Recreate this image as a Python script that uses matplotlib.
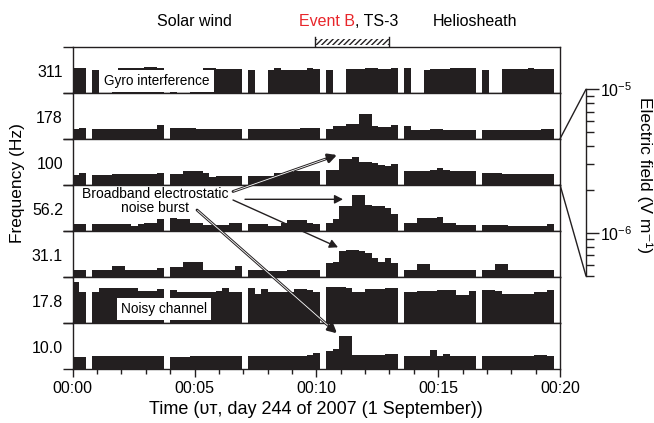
import numpy as np
import matplotlib
matplotlib.use("Agg")
import matplotlib.pyplot as plt
from matplotlib.patches import Rectangle, ConnectionPatch
from matplotlib.transforms import blended_transform_factory
from matplotlib.ticker import LogLocator, NullFormatter, LogFormatterMathtext, MultipleLocator

plt.rcParams['font.family'] = ['Liberation Sans', 'DejaVu Sans']

INK = '#231f20'
G = np.nan

# 16-s bins over 20 minutes; level = bar height in % of panel height
bin_min = 16 / 60.0
channels = ['311', '178', '100', '56.2', '31.1', '17.8', '10.0']

lvl_311 = [54, 53, G, 50, G, G, 50, 53, 53, 53, 53, 56, 56, 53, G, 48, G, G, 50, 50, 53, 53, 51, 51, 51,
           51, G, 50, G, G, 50, 53, 50, 50, 50, 50, 53, 52, G, 50, G, G, 52, 52, 52, 53, 53, 52, 52, 54,
           G, 54, G, G, 50, 52, 52, 52, 54, 54, 54, 53, G, 50, G, G, 52, 52, 52, 52, 53, 52, 52, 52, G]
lvl_178 = [21, 24, G, 22, 22, 22, 22, 22, 22, 22, 22, 22, 22, 31, G, 24, 24, 24, 24, 21, 21, 21, 21, 22, 22,
           22, G, 21, 21, 21, 21, 22, 22, 22, 22, 24, 24, 24, G, 22, 28, 28, 33, 33, 54, 54, 28, 25, 25, 30,
           G, 28, 20, 20, 20, 22, 22, 20, 20, 20, 20, 20, G, 20, 20, 20, 20, 20, 20, 20, 20, 20, 22, 22, G]
lvl_100 = [22, 25, G, 22, 22, 22, 23, 23, 23, 23, 23, 23, 23, 25, G, 23, 23, 29, 29, 29, 25, 17, 20, 20, 20,
           20, G, 19, 19, 19, 20, 25, 25, 27, 29, 30, 30, 30, G, 32, 32, 56, 56, 61, 49, 49, 47, 43, 40, 45,
           G, 30, 30, 30, 30, 32, 36, 32, 29, 29, 29, 29, G, 25, 25, 25, 24, 24, 24, 24, 24, 23, 23, 23, G]
lvl_56 = [15, 15, G, 15, 15, 15, 15, 15, 15, 11, 15, 18, 18, 26, G, 29, 26, 26, 16, 16, 13, 13, 13, 13, 17,
          17, G, 15, 15, 15, 11, 11, 17, 24, 24, 24, 18, 15, G, 17, 26, 55, 55, 78, 78, 56, 53, 53, 49, 36,
          G, 17, 17, 27, 27, 29, 31, 17, 17, 13, 13, 13, G, 13, 13, 13, 13, 11, 11, 11, 11, 11, 11, 15, G]
lvl_31 = [14, 14, G, 14, 14, 14, 24, 24, 14, 14, 14, 14, 14, 19, G, 21, 21, 32, 32, 32, 14, 14, 16, 16, 14,
          24, G, 14, 14, 14, 12, 12, 12, 14, 14, 16, 16, 16, G, 30, 33, 57, 59, 59, 57, 52, 42, 32, 40, 30,
          G, 16, 16, 28, 28, 16, 16, 14, 14, 14, 14, 14, G, 14, 14, 28, 28, 14, 14, 14, 14, 14, 14, 14, G]
lvl_17 = [88, 68, G, 68, 75, 75, 75, 75, 75, 75, 70, 70, 70, 74, G, 72, 67, 67, 68, 68, 68, 68, 70, 75, 67,
          67, G, 75, 63, 74, 67, 67, 67, 67, 74, 74, 72, 67, G, 78, 79, 79, 75, 68, 68, 74, 74, 74, 75, 75,
          G, 68, 68, 70, 70, 70, 72, 72, 72, 61, 61, 70, G, 72, 72, 70, 62, 62, 62, 62, 62, 67, 67, 72, G]
lvl_10 = [26, 26, G, 28, 28, 29, 29, 29, 29, 29, 28, 28, 28, 28, G, 26, 26, 26, 28, 28, 28, 28, 28, 28, 28,
          28, G, 28, 28, 28, 28, 28, 28, 28, 28, 28, 30, 35, G, 40, 44, 71, 71, 31, 31, 31, 31, 31, 32, 32,
          G, 29, 29, 29, 29, 42, 29, 33, 29, 29, 29, 29, G, 29, 29, 29, 29, 29, 29, 29, 29, 31, 31, 29, G]

levels = [lvl_311, lvl_178, lvl_100, lvl_56, lvl_31, lvl_17, lvl_10]

fig, axes = plt.subplots(7, 1, figsize=(6.54, 4.23), dpi=100, sharex=True)
fig.subplots_adjust(left=0.1112, right=0.8563, top=0.8896, bottom=0.1277, hspace=0)

t0 = np.arange(75) * bin_min
for ax, lab, lv in zip(axes, channels, levels):
    ax.bar(t0, lv, width=bin_min, align='edge', color=INK, linewidth=0)
    ax.set_xlim(0, 20)
    ax.set_ylim(0, 100)
    ax.set_yticks([0, 100])
    ax.set_yticklabels([])
    ax.tick_params(axis='y', direction='out', length=7, width=1, color=INK)
    ax.tick_params(axis='x', bottom=False)
    for s in ax.spines.values():
        s.set_color(INK)
        s.set_linewidth(1)
    ax.text(-0.02, 0.45, lab, transform=ax.transAxes, ha='right', va='center', fontsize=11.5)

bax = axes[-1]
bax.xaxis.set_major_locator(MultipleLocator(5))
bax.xaxis.set_minor_locator(MultipleLocator(1))
bax.set_xticks([0, 5, 10, 15, 20])
bax.set_xticklabels(['00:00', '00:05', '00:10', '00:15', '00:20'])
bax.tick_params(axis='x', which='major', bottom=True, direction='out', length=6, width=1, color=INK,
                labelsize=11.5, pad=3)
bax.tick_params(axis='x', which='minor', bottom=True, direction='out', length=3.5, width=1, color=INK)
bax.set_xlabel('Time (ᴜᴛ, day 244 of 2007 (1 September))', fontsize=13, labelpad=3)

fig.text(18 / 654, 1 - 183 / 423, 'Frequency (Hz)', rotation=90, ha='center', va='center', fontsize=12.5)

# region labels on top
top = axes[0]
tr = blended_transform_factory(top.transData, fig.transFigure)
fig.text(5.0, 0.948, 'Solar wind', transform=tr, ha='center', va='center', fontsize=11.5)
fig.text(11.6, 0.948, 'Event B', transform=tr, ha='right', va='center', fontsize=11.5, color='#e8262b')
fig.text(11.6, 0.948, ', TS-3', transform=tr, ha='left', va='center', fontsize=11.5)
fig.text(16.5, 0.948, 'Heliosheath', transform=tr, ha='center', va='center', fontsize=11.5)

ts_start, ts_end = 9.93, 13.0
fig.add_artist(Rectangle((ts_start, 1 - 45 / 423), ts_end - ts_start, 6 / 423, transform=tr,
                         facecolor='none', edgecolor=INK, linewidth=0, hatch='//////'))
for x in (ts_start, ts_end):
    fig.add_artist(plt.Line2D([x, x], [1 - 46 / 423, 1 - 37.5 / 423], transform=tr, color=INK, lw=1))

# boxed notes
axes[0].text(3.45, 25, 'Gyro interference', ha='center', va='center', fontsize=9.8,
             bbox=dict(boxstyle='square,pad=0.3', fc='white', ec='none'))
axes[5].text(3.74, 31, 'Noisy channel', ha='center', va='center', fontsize=9.8,
             bbox=dict(boxstyle='square,pad=0.3', fc='white', ec='none'))

# burst annotation
def fp(px, py):
    return (px / 654, 1 - py / 423)

fig.text(*fp(155, 201), 'Broadband electrostatic\nnoise burst', ha='center', va='center',
         multialignment='center', fontsize=10, linespacing=1.05)

arrows = [((233, 191.5), (337, 155), True),
          ((245, 199.3), (343, 199.3), False),
          ((233, 200), (338, 247.3), False),
          ((197, 210), (337, 333.3), True)]
for tail, head, double in arrows:
    fig.add_artist(matplotlib.patches.FancyArrowPatch(
        fp(*tail), fp(*head), transform=fig.transFigure,
        arrowstyle='-|>,head_length=5,head_width=2.6', mutation_scale=1,
        color=INK, lw=2.0 if double else 1.0, shrinkA=0, shrinkB=0))
    if double:
        fig.add_artist(matplotlib.patches.FancyArrowPatch(
            fp(*tail), fp(*head), transform=fig.transFigure, arrowstyle='-',
            color='white', lw=0.6, shrinkA=0.5, shrinkB=9))

# electric field scale for the 100 Hz channel
eax = fig.add_axes([586 / 654, 1 - 276 / 423, 0.0001, (276 - 89.3) / 423])
eax.set_yscale('log')
eax.set_ylim(5e-7, 1e-5)
eax.set_xticks([])
for k in ('left', 'top', 'bottom'):
    eax.spines[k].set_visible(False)
eax.spines['right'].set_color(INK)
eax.spines['right'].set_linewidth(1)
eax.yaxis.tick_right()
eax.yaxis.set_major_locator(LogLocator(base=10))
eax.yaxis.set_major_formatter(LogFormatterMathtext())
eax.yaxis.set_minor_locator(LogLocator(base=10, subs=np.arange(2, 10)))
eax.yaxis.set_minor_formatter(NullFormatter())
eax.tick_params(axis='y', which='major', direction='out', length=9, width=1, color=INK, labelsize=11.5, pad=1)
eax.tick_params(axis='y', which='minor', direction='out', length=6, width=1, color=INK)
eax.patch.set_visible(False)

fig.add_artist(ConnectionPatch(xyA=(1, 0), coordsA=axes[1].transAxes, xyB=(0, 1), coordsB=eax.transAxes,
                               color=INK, lw=1))
fig.add_artist(ConnectionPatch(xyA=(1, 0), coordsA=axes[2].transAxes, xyB=(0, 0), coordsB=eax.transAxes,
                               color=INK, lw=1))

fig.text(645 / 654, 1 - 175 / 423, 'Electric field (V m⁻¹)', rotation=-90, ha='center', va='center',
         fontsize=12.5)

fig.savefig('out.png', dpi=100)
